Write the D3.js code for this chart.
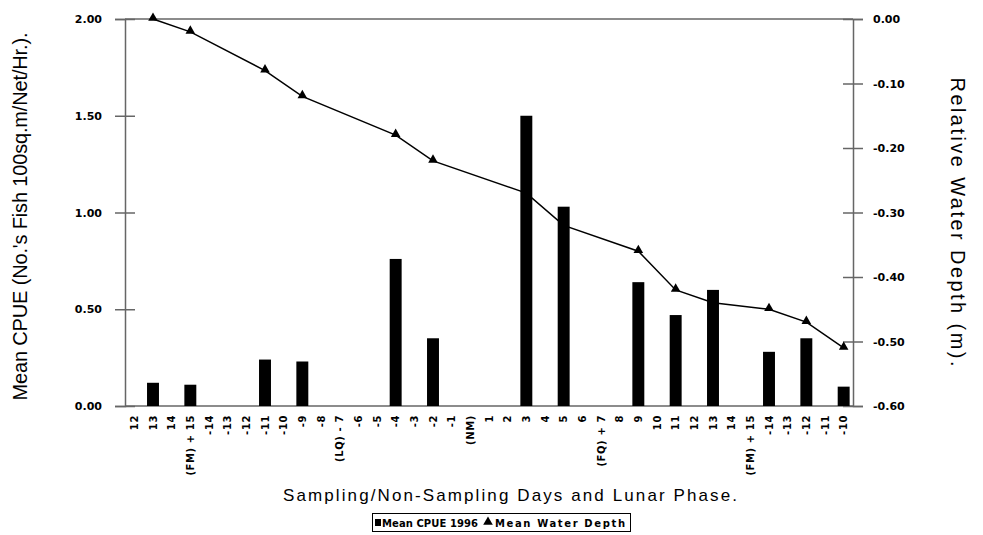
<!DOCTYPE html>
<html>
<head>
<meta charset="utf-8">
<script src="https://cdn.jsdelivr.net/npm/d3@7"></script>
<style>
  html, body { margin: 0; padding: 0; background: #fff; }
  svg { display: block; }
</style>
</head>
<body>
<svg id="chart" width="983" height="535"></svg>
<script>
// ---- data ----
const categories = ["12","13","14","(FM) + 15","-14","-13","-12","-11","-10","-9","-8","(LQ) - 7","-6","-5","-4","-3","-2","-1","(NM)","1","2","3","4","5","6","(FQ) + 7","8","9","10","11","12","13","14","(FM) + 15","-14","-13","-12","-11","-10"];
const cpue = [null,0.12,null,0.11,null,null,null,0.24,null,0.23,null,null,null,null,0.76,null,0.35,null,null,null,null,1.50,null,1.03,null,null,null,0.64,null,0.47,null,0.60,null,null,0.28,null,0.35,null,0.10];
const depth = [null,0.00,null,-0.02,null,null,null,-0.08,null,-0.12,null,null,null,null,-0.18,null,-0.22,null,null,null,null,-0.27,null,-0.32,null,null,null,-0.36,null,-0.42,null,-0.44,null,null,-0.45,null,-0.47,null,-0.51];
const leftTicks = [0, 0.5, 1.0, 1.5, 2.0];
const rightTicks = [0, -0.1, -0.2, -0.3, -0.4, -0.5, -0.6];
const seriesNames = ["Mean CPUE 1996", "Mean Water Depth"];
const leftTitle = "Mean CPUE (No.'s Fish 100sq.m/Net/Hr.).";
const rightTitle = "Relative Water Depth (m).";
const xTitle = "Sampling/Non-Sampling Days and Lunar Phase.";

// ---- layout ----
const svg = d3.select("#chart");
const X0 = 125, X1 = 853, Y0 = 406, Y1 = 19;
const axisColor = "#666";

const x = d3.scaleBand().domain(d3.range(categories.length)).range([X0, X1])
  .paddingInner(0.36).paddingOuter(0.18);
const yL = d3.scaleLinear().domain([0, 2]).range([Y0, Y1]);
const yR = d3.scaleLinear().domain([-0.6, 0]).range([Y0, Y1]);
const cx = i => x(i) + x.bandwidth() / 2;

// frame top line
svg.append("line").attr("x1", X0).attr("x2", X1).attr("y1", Y1).attr("y2", Y1)
  .attr("stroke", axisColor).attr("stroke-width", 1.5);

// left axis
const gL = svg.append("g").attr("transform", `translate(${X0},0)`)
  .call(d3.axisLeft(yL).tickValues(leftTicks).tickFormat(d => d.toFixed(2)).tickSize(10).tickPadding(13));
gL.select(".domain").attr("stroke", axisColor).attr("stroke-width", 1.5);
gL.selectAll(".tick line").attr("x1", -10).attr("x2", 10).attr("stroke", axisColor).attr("stroke-width", 1.5);
gL.selectAll(".tick text").attr("font-family", "DejaVu Sans").attr("font-weight", "bold").attr("font-size", 11).attr("fill", "#000");

// right axis
const gR = svg.append("g").attr("transform", `translate(${X1},0)`)
  .call(d3.axisRight(yR).tickValues(rightTicks).tickFormat(d => d.toFixed(2)).tickSize(10).tickPadding(10));
gR.select(".domain").attr("stroke", axisColor).attr("stroke-width", 1.5);
gR.selectAll(".tick line").attr("x1", -10).attr("x2", 10).attr("stroke", axisColor).attr("stroke-width", 1.5);
gR.selectAll(".tick text").attr("font-family", "DejaVu Sans").attr("font-weight", "bold").attr("font-size", 11).attr("fill", "#000");

// bottom axis
const gB = svg.append("g").attr("transform", `translate(0,${Y0})`)
  .call(d3.axisBottom(x).tickFormat(i => categories[i]).tickSize(0));
gB.select(".domain").attr("stroke", axisColor).attr("stroke-width", 1.5)
  .attr("d", `M${X0},0H${X1}`);
gB.selectAll(".tick text")
  .attr("font-family", "DejaVu Sans").attr("font-weight", "bold").attr("font-size", 10)
  .attr("letter-spacing", 0.6).attr("fill", "#000")
  .attr("text-anchor", "end")
  .attr("transform", "translate(0,9) rotate(-90)")
  .attr("x", 0).attr("y", 0).attr("dy", "0.35em");

// line series (drawn beneath bars)
const pts = depth.map((d, i) => ({ i, d })).filter(p => p.d !== null);
svg.append("path").datum(pts)
  .attr("fill", "none").attr("stroke", "#000").attr("stroke-width", 1.5)
  .attr("d", d3.line().x(p => cx(p.i)).y(p => yR(p.d)));
svg.selectAll(".mk").data(pts).enter().append("path")
  .attr("class", "mk")
  .attr("transform", p => `translate(${cx(p.i)},${yR(p.d) - 1})`)
  .attr("d", d3.symbol(d3.symbolTriangle, 40))
  .attr("fill", "#000");

// bars
const bars = cpue.map((v, i) => ({ i, v })).filter(b => b.v !== null);
svg.selectAll(".bar").data(bars).enter().append("rect")
  .attr("class", "bar")
  .attr("x", b => x(b.i)).attr("width", x.bandwidth())
  .attr("y", b => yL(b.v)).attr("height", b => yL(0) - yL(b.v))
  .attr("fill", "#000");

// axis titles
svg.append("text")
  .attr("transform", `translate(27,${(Y0 + Y1) / 2 + 4}) rotate(-90)`)
  .attr("text-anchor", "middle")
  .attr("font-family", "Liberation Sans, Arial, sans-serif").attr("font-size", 20)
  .attr("textLength", 368).attr("lengthAdjust", "spacing")
  .text(leftTitle);
svg.append("text")
  .attr("transform", `translate(951,222) rotate(90)`)
  .attr("text-anchor", "middle")
  .attr("font-family", "Liberation Sans, Arial, sans-serif").attr("font-size", 20)
  .attr("textLength", 289).attr("lengthAdjust", "spacing")
  .text(rightTitle);
svg.append("text")
  .attr("x", 510).attr("y", 501)
  .attr("text-anchor", "middle")
  .attr("font-family", "Liberation Sans, Arial, sans-serif").attr("font-size", 17)
  .attr("textLength", 454).attr("lengthAdjust", "spacing")
  .text(xTitle);

// legend
const lg = svg.append("g");
lg.append("rect").attr("x", 372.5).attr("y", 513.5).attr("width", 258).attr("height", 18)
  .attr("fill", "#fff").attr("stroke", "#000").attr("stroke-width", 1);
lg.append("rect").attr("x", 375).attr("y", 519).attr("width", 6).attr("height", 7).attr("fill", "#000");
lg.append("text").attr("x", 382).attr("y", 526.5)
  .attr("font-family", "DejaVu Sans").attr("font-weight", "bold").attr("font-size", 10)
  .attr("textLength", 96).attr("lengthAdjust", "spacing")
  .text(seriesNames[0]);
lg.append("path").attr("transform", "translate(488,522)")
  .attr("d", d3.symbol(d3.symbolTriangle, 40)).attr("fill", "#000");
lg.append("text").attr("x", 495).attr("y", 526.5)
  .attr("font-family", "DejaVu Sans").attr("font-weight", "bold").attr("font-size", 10)
  .attr("textLength", 130).attr("lengthAdjust", "spacing")
  .text(seriesNames[1]);
</script>
</body>
</html>
